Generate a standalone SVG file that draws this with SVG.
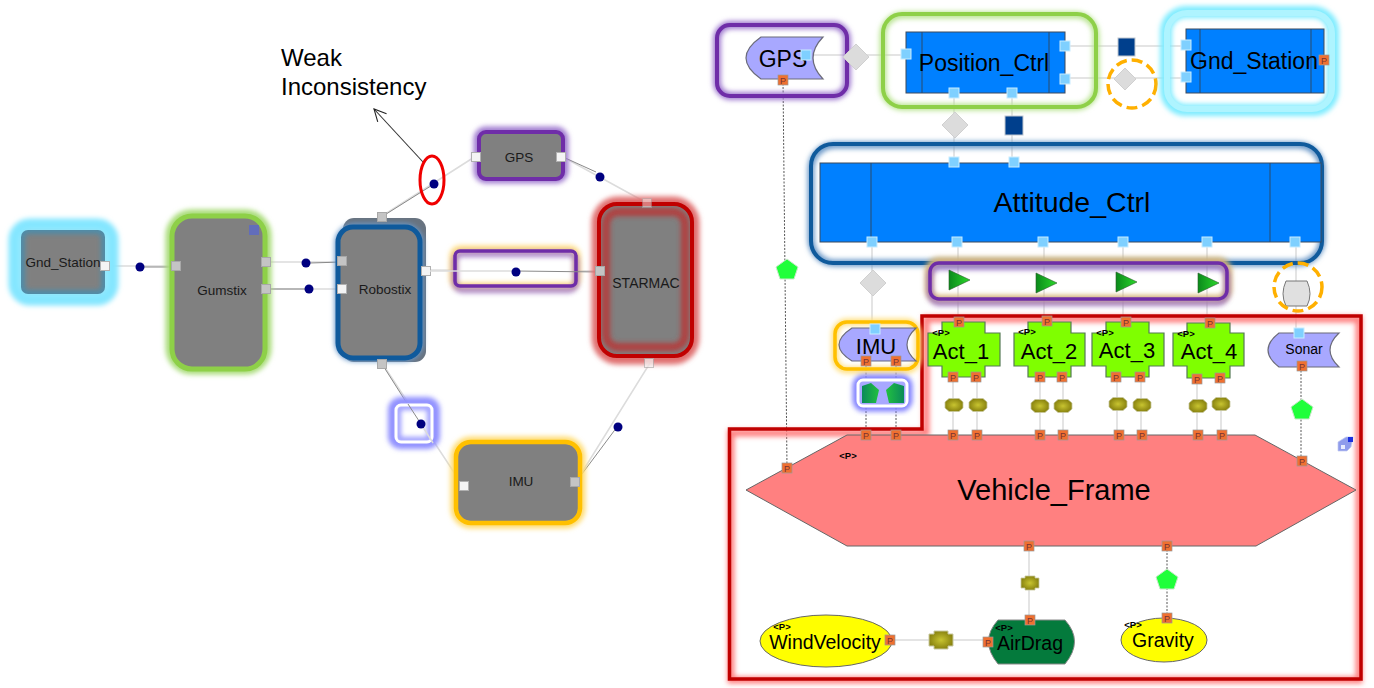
<svg xmlns="http://www.w3.org/2000/svg" width="1374" height="688" viewBox="0 0 1374 688">
<style>
text{font-family:"Liberation Sans",Arial,sans-serif;fill:#000;text-anchor:middle}
.l{font-size:13.500px;fill:#1a1a1a}
.big{font-size:22px}
.wide{font-size:23px}
.p{font-size:9.500px;font-weight:bold}
.gray{fill:#808080}
.wire{fill:none;stroke:#dcdcdc;stroke-width:1.500}
.dark{fill:none;stroke:#8a8a8a;stroke-width:1}
.dash{fill:none;stroke:#555;stroke-width:1;stroke-dasharray:2 1.500}
.blue{fill:#0080ff;stroke:#3d4a5c;stroke-width:1}
.div{stroke:#2a4a6a;stroke-width:1}
.halo{fill:none;filter:url(#b)}
.ring{fill:none}
.sig{fill:#a8a8ff;stroke:#6b6b7a;stroke-width:1.200}
.act{fill:#7fff00;stroke:#557a55;stroke-width:1.200}
.dia{fill:#dcdcdc;stroke:#d0d0d0}
.pent{fill:#1fff3a;stroke:#c8e8c8}
.nav{fill:#003f8c;stroke:#c0c8d0}
</style>
<defs>
<filter id="b" x="-30%" y="-30%" width="160%" height="160%"><feGaussianBlur stdDeviation="2.500"/></filter>
<linearGradient id="tri"><stop offset="0" stop-color="#0b8a1c"/><stop offset="1" stop-color="#2bd82b"/></linearGradient>
<radialGradient id="ol"><stop offset="0" stop-color="#c8c430"/><stop offset="1" stop-color="#8a8410"/></radialGradient>
<linearGradient id="gl" x1="0" x2="1"><stop offset="0" stop-color="#0a8a5a"/><stop offset="1" stop-color="#22c040"/></linearGradient>
<linearGradient id="gr" x1="0" x2="1"><stop offset="0" stop-color="#22c040"/><stop offset="1" stop-color="#0a8a5a"/></linearGradient>
<marker id="open" markerWidth="16" markerHeight="16" refX="13" refY="7" orient="auto" markerUnits="userSpaceOnUse"><path d="M1 1L13 7L1 13" fill="none" stroke="#222" stroke-width="1.100"/></marker>
<rect id="sq" x="-5" y="-5" width="10" height="10" fill="#7fd0ff" stroke="#c8ecff"/>
<rect id="ws" x="-4.500" y="-4.500" width="9" height="9" fill="#f4f4f4" stroke="#b0b0b0"/>
<rect id="gs" x="-4.500" y="-4.500" width="9" height="9" fill="#c4c4c4" stroke="#a8a8a8"/>
<circle id="dot" r="4.500" fill="#000080"/>
<g id="port"><rect x="-5" y="-5" width="10" height="10" fill="#f07030" stroke="#999" stroke-width=".7"/><text y="3.500" style="font-size:9px;fill:#733">P</text></g>
<path id="diamond" d="M0-13L13 0L0 13L-13 0Z"/>
<path id="tr" d="M-10-10L11 0L-10 10Z" fill="url(#tri)" stroke="#2a5a2a" stroke-width=".6"/>
<path id="olive" d="M-5-6.500H5L9-3V3L5 6.500H-5L-9 3V-3Z" fill="url(#ol)" stroke="#c8c8a0" stroke-width=".8"/>
<path id="oliveB" d="M-5-7H5V-5H9V5H5V7H-5V5H-9V-5H-5Z" fill="url(#ol)" stroke="#c8c8a0" stroke-width=".8"/>
<path id="pentagon" d="M0-10L11-2L7 10H-7L-11-2Z"/>
</defs>

<g id="connectors">
<path class="wire" d="M110 266H175M268 262H342M268 289H342"/>
<path class="dark" d="M140 267H174M269 289H309M310 263L342 262"/>
<path class="wire" d="M382 216L476 156M563 157L647 203M426 270L600 271M382 363L463 486M650 363L576 482"/>
<path class="dark" d="M383 216L434 184M563 157L596 172M382 364L420 424M576 482L617 427"/>
<path d="M423 162L374 109" fill="none" stroke="#333" stroke-width="1.100" marker-end="url(#open)"/>
<path class="wire" d="M807 55H906M1065 46H1186M1065 78H1186M954 93V162M1012 93V162M872 242V332M958 242V322M1044 242V322M1123 242V322M1207 242V322M1296 242V332"/>
<path class="wire" d="M953 377V435M977 377V435M1040 377V435M1063 377V435M1117 377V435M1141 377V435M1197 377V435M1221 377V435M1029 546V620M890 640H986"/>
<path class="dash" d="M783 80L787 468M866 362V435M896 362V435M1301 367V461M1167 546V619"/>
</g>

<g id="left_Gnd_Station">
<rect x="14" y="224" width="99" height="76" rx="16" fill="#9cecff" stroke="#84e6ff" stroke-width="11" filter="url(#b)"/>
<rect x="21" y="230" width="84" height="64" rx="7" fill="#4f8ca8"/>
<rect x="25" y="234" width="76" height="56" rx="4" fill="#808080" filter="url(#b)"/>
<text class="l" x="63" y="267">Gnd_Station</text>
<use href="#ws" x="105" y="266"/>
<use href="#dot" x="140" y="267"/>
</g>
<g id="left_Gumstix">
<rect class="halo" x="170" y="214" width="97" height="156" rx="22" stroke="#a8dc78" stroke-width="9"/>
<rect class="gray" x="174" y="217" width="90" height="150" rx="16"/>
<rect class="ring" x="172" y="216" width="93" height="153" rx="20" stroke="#8ed048" stroke-width="5"/>
<text class="l" x="222" y="295">Gumstix</text>
<rect x="249" y="225" width="10" height="10" fill="#5a68c8" opacity=".8"/>
<use href="#gs" x="176" y="266"/>
<use href="#gs" x="266" y="262"/><use href="#gs" x="266" y="289"/>
<use href="#dot" x="306" y="263"/><use href="#dot" x="309" y="289"/>
</g>
<g id="left_Robostix">
<rect x="343" y="218" width="83" height="144" rx="11" fill="#687380"/>
<rect class="halo" x="338" y="227" width="82" height="131" rx="16" stroke="#6a9acc" stroke-width="7"/>
<rect class="gray" x="340" y="228" width="79" height="129" rx="14"/>
<rect class="ring" x="338" y="227" width="82" height="131" rx="15" stroke="#0f5a9c" stroke-width="5"/>
<text class="l" x="385" y="294">Robostix</text>
<use href="#gs" x="382" y="217"/><use href="#gs" x="382" y="364"/>
<use href="#gs" x="342" y="261"/><use href="#ws" x="342" y="289"/><use href="#ws" x="426" y="271"/>
</g>
<g id="left_GPS">
<rect class="halo" x="478" y="131" width="86" height="48" rx="8" stroke="#a07cd0" stroke-width="9"/>
<rect class="gray" x="479" y="132" width="84" height="47" rx="6"/>
<rect class="ring" x="479" y="132" width="84" height="47" rx="7" stroke="#6f2da8" stroke-width="4"/>
<text class="l" x="519" y="162">GPS</text>
<use href="#ws" x="476" y="157"/><use href="#ws" x="561" y="157"/>
</g>
<g id="left_link">
<rect x="455" y="251" width="121" height="35" rx="5" fill="#fff"/>
<rect class="halo" x="453" y="249" width="124" height="37" rx="7" stroke="#ffdc80" stroke-width="7"/>
<rect class="halo" x="455" y="254" width="121" height="36" rx="7" stroke="#9060c0" stroke-width="6" opacity=".75"/>
<rect class="ring" x="455" y="251" width="121" height="35" rx="5" stroke="#6f2da8" stroke-width="3.500"/>
<path class="dark" d="M516 271L600 272"/><path class="wire" d="M430 271H516"/>
<use href="#dot" x="516" y="272"/>
</g>
<g id="left_STARMAC">
<rect class="halo" x="598" y="203" width="95" height="155" rx="20" stroke="#e07070" stroke-width="13"/>
<rect class="gray" x="600" y="205" width="91" height="151" rx="15"/>
<rect class="halo" x="606" y="212" width="79" height="135" rx="12" stroke="#b04040" stroke-width="8"/>
<rect class="ring" x="599" y="204" width="93" height="152" rx="18" stroke="#c00000" stroke-width="4"/>
<text class="l" x="646" y="288" style="font-size:14px">STARMAC</text>
<use href="#ws" x="647" y="203" opacity=".5"/><use href="#ws" x="649" y="363" opacity=".7"/><use href="#gs" x="600" y="271"/>
</g>
<g id="left_IMU">
<rect class="halo" x="455" y="441" width="126" height="83" rx="16" stroke="#ffdc70" stroke-width="9"/>
<rect class="gray" x="458" y="444" width="120" height="77" rx="12"/>
<rect class="ring" x="456" y="442" width="124" height="81" rx="15" stroke="#ffc000" stroke-width="4.500"/>
<text class="l" x="521" y="486">IMU</text>
<use href="#ws" x="464" y="486"/><use href="#gs" x="575" y="482"/>
<use href="#dot" x="618" y="427"/>
</g>
<g id="left_small">
<rect class="halo" x="393" y="402" width="42" height="42" rx="8" stroke="#9090ff" stroke-width="10"/>
<rect x="396" y="405" width="36" height="37" rx="5" fill="#fff"/>
<rect class="halo" x="398" y="407" width="32" height="33" rx="4" stroke="#9a9aff" stroke-width="6"/>
<rect class="ring" x="396" y="405" width="36" height="37" rx="5" stroke="#fff" stroke-width="3"/>
<path class="dark" d="M408 404L421 424"/><path class="wire" d="M421 424L433 443"/>
<use href="#dot" x="421" y="424"/>
</g>
<g id="weak">
<ellipse class="ring" cx="432" cy="180" rx="12" ry="24" stroke="#f00000" stroke-width="3"/>
<use href="#dot" x="434" y="184"/><use href="#dot" x="600" y="177"/>
<text x="281" y="66" style="font-size:24px;text-anchor:start">Weak</text>
<text x="281" y="95" style="font-size:24px;text-anchor:start">Inconsistency</text>
</g>

<g id="GPS">
<rect class="halo" x="717" y="25" width="130" height="71" rx="14" stroke="#a07cd0" stroke-width="8"/>
<rect class="ring" x="717" y="25" width="130" height="71" rx="13" stroke="#6f2da8" stroke-width="4"/>
<path class="sig" d="M761 37H823Q803 58 823 79H761Q731 58 761 37Z"/>
<text class="wide" x="783" y="67">GPS</text>
<use href="#sq" x="806" y="55"/><use href="#port" x="783" y="80"/>
</g>
<use class="dia" href="#diamond" x="856" y="57"/>
<g id="Position_Ctrl">
<rect class="halo" x="883" y="15" width="213" height="92" rx="20" stroke="#b8e490" stroke-width="7"/>
<rect class="ring" x="883" y="14" width="213" height="93" rx="19" stroke="#8ed048" stroke-width="4"/>
<rect class="blue" x="906" y="32" width="159" height="61"/>
<path class="div" d="M922 32V93M1049 32V93"/>
<text class="wide" x="984" y="71">Position_Ctrl</text>
<use href="#sq" x="906" y="54"/><use href="#sq" x="1065" y="46"/><use href="#sq" x="1065" y="79"/><use href="#sq" x="954" y="93"/><use href="#sq" x="1012" y="93"/>
</g>
<rect class="nav" x="1118" y="38" width="17" height="18"/>
<path class="dia" d="M1125 68L1136 79L1125 90L1114 79Z"/>
<circle class="ring" cx="1132" cy="84" r="24" stroke="#ffb000" stroke-width="3.500" stroke-dasharray="11 5"/>
<g id="Gnd_Station">
<rect class="halo" x="1166" y="12" width="167" height="98" rx="20" stroke="#7fecff" stroke-width="12"/>
<rect class="ring" x="1167" y="13" width="165" height="96" rx="20" stroke="#aef4ff" stroke-width="6"/>
<rect class="blue" x="1186" y="29" width="138" height="64"/>
<path class="div" d="M1200 29V93M1311 29V93"/>
<text class="wide" x="1254" y="69">Gnd_Station</text>
<use href="#sq" x="1186" y="45"/><use href="#sq" x="1186" y="77"/><use href="#port" x="1324" y="60"/>
</g>
<use class="dia" href="#diamond" x="955" y="125"/>
<rect class="nav" x="1005" y="116" width="18" height="19"/>
<g id="Attitude_Ctrl">
<rect class="halo" x="811" y="145" width="511" height="118" rx="24" stroke="#6a98c8" stroke-width="7"/>
<rect class="ring" x="811" y="144" width="511" height="119" rx="22" stroke="#0f5a9c" stroke-width="4"/>
<rect class="blue" x="820" y="163" width="501" height="79"/>
<path class="div" d="M871 163V242M1270 163V242"/>
<text x="1072" y="212" style="font-size:28.500px">Attitude_Ctrl</text>
<use href="#sq" x="954" y="162"/><use href="#sq" x="1014" y="162"/><use href="#sq" x="872" y="242"/><use href="#sq" x="957" y="242"/><use href="#sq" x="1043" y="242"/><use href="#sq" x="1123" y="242"/><use href="#sq" x="1207" y="242"/><use href="#sq" x="1295" y="242"/>
</g>
<g id="Actuation">
<rect class="halo" x="929" y="261" width="299" height="38" rx="10" stroke="#d8b878" stroke-width="8"/>
<rect class="halo" x="930" y="267" width="297" height="36" rx="10" stroke="#9060c0" stroke-width="6" opacity=".75"/>
<rect class="ring" x="930" y="263" width="297" height="36" rx="9" stroke="#6f2da8" stroke-width="3.500"/>
<use href="#tr" x="959" y="280"/><use href="#tr" x="1046" y="283"/><use href="#tr" x="1126" y="282"/><use href="#tr" x="1208" y="283"/>
</g>
<use class="pent" href="#pentagon" x="787" y="269"/>
<use class="dia" href="#diamond" x="873" y="283"/>
<g id="Sonar_conv">
<path d="M1286 281H1307Q1313 294 1307 306H1286Q1280 294 1286 281Z" fill="#e0e0e0" stroke="#777" stroke-width="1"/>
<circle class="ring" cx="1298" cy="287" r="24" stroke="#ffb000" stroke-width="3.500" stroke-dasharray="11 5"/>
</g>
<g id="Plant_boundary">
<path class="halo" d="M731 433H926V319H1359V680H731Z" stroke="#ff8080" stroke-width="7"/>
<path class="ring" d="M729.500 429H922V316H1361V679H729.500Z" stroke="#c00000" stroke-width="3.500"/>
</g>
<g id="IMU">
<rect class="halo" x="835" y="322" width="83" height="48" rx="12" stroke="#ffe080" stroke-width="7"/>
<rect class="ring" x="835" y="322" width="83" height="47" rx="12" stroke="#ffc000" stroke-width="3.500"/>
<path class="sig" d="M852 328H916Q898 345 916 361H852Q826 345 852 328Z"/>
<text class="big" x="876" y="354">IMU</text>
<use href="#sq" x="875" y="329"/><use href="#port" x="866" y="361"/><use href="#port" x="896" y="361"/>
</g>
<g id="IMU_conv">
<rect class="halo" x="857" y="379" width="51" height="28" rx="7" stroke="#8080ff" stroke-width="9"/>
<rect x="858" y="380" width="49" height="26" rx="5" fill="#a8a8ff" stroke="#fff" stroke-width="3"/>
<path d="M862 386L871 383L879 390L876 403H862Z" fill="url(#gl)"/>
<path d="M886 390L894 383L904 386V403H889Z" fill="url(#gr)"/>
</g>
<g id="Vehicle_Frame">
<path d="M746 490L847 435H1255L1356 490L1256 546H847Z" fill="#ff8080" stroke="#666" stroke-width="1"/>
<text x="1054" y="500" style="font-size:29px">Vehicle_Frame</text>
<text class="p" x="848" y="459">&lt;P&gt;</text>
<use href="#port" x="787" y="468"/><use href="#port" x="866" y="435"/><use href="#port" x="896" y="435"/>
<use href="#port" x="953" y="435"/><use href="#port" x="977" y="435"/><use href="#port" x="1040" y="435"/><use href="#port" x="1063" y="435"/><use href="#port" x="1119" y="435"/><use href="#port" x="1142" y="435"/><use href="#port" x="1198" y="435"/><use href="#port" x="1222" y="435"/><use href="#port" x="1302" y="461"/><use href="#port" x="1029" y="546"/><use href="#port" x="1167" y="546"/>
</g>
<g id="Act_1">
<path class="act" d="M942 322H985V333H1000V366H985V377H942V366H928V333H942Z"/>
<text class="p" x="941" y="336">&lt;P&gt;</text>
<text class="big" x="961" y="359">Act_1</text>
<use href="#port" x="959" y="322"/><use href="#port" x="953" y="377"/><use href="#port" x="976" y="377"/>
</g>
<g id="Act_2">
<path class="act" d="M1028 322H1071V333H1085V366H1071V377H1028V366H1014V333H1028Z"/>
<text class="p" x="1027" y="335">&lt;P&gt;</text>
<text class="big" x="1049" y="359">Act_2</text>
<use href="#port" x="1047" y="321"/><use href="#port" x="1040" y="377"/><use href="#port" x="1062" y="377"/>
</g>
<g id="Act_3">
<path class="act" d="M1106 322H1149V333H1164V366H1149V377H1106V366H1092V333H1106Z"/>
<text class="p" x="1105" y="336">&lt;P&gt;</text>
<text class="big" x="1127" y="358">Act_3</text>
<use href="#port" x="1126" y="322"/><use href="#port" x="1116" y="377"/><use href="#port" x="1140" y="377"/>
</g>
<g id="Act_4">
<path class="act" d="M1187 323H1230V333H1244V366H1230V378H1187V366H1173V333H1187Z"/>
<text class="p" x="1186" y="337">&lt;P&gt;</text>
<text class="big" x="1209" y="359">Act_4</text>
<use href="#port" x="1210" y="323"/><use href="#port" x="1197" y="379"/><use href="#port" x="1220" y="378"/>
</g>
<g id="Sonar">
<path class="sig" d="M1279 333H1339Q1321 350 1339 367H1279Q1257 350 1279 333Z"/>
<text x="1304" y="354" style="font-size:14px">Sonar</text>
<use href="#sq" x="1299" y="333"/><use href="#port" x="1302" y="366"/>
</g>
<use class="pent" href="#pentagon" x="1302" y="409"/>
<g id="c_block" transform="translate(1345 444)"><path d="M-7-2L1-7H8L6 3L2 7H-7Z" fill="#8f9cec" stroke="#c0c8f0" stroke-width=".7"/><rect x="3" y="-7" width="5" height="5" fill="#1a30e0"/><rect x="-4" y="1" width="4" height="4" fill="#e8ecff"/></g>
<g id="junctions">
<use href="#olive" x="954" y="405"/><use href="#olive" x="978" y="405"/><use href="#olive" x="1040" y="406"/><use href="#olive" x="1063" y="406"/><use href="#olive" x="1118" y="404"/><use href="#olive" x="1142" y="405"/><use href="#olive" x="1198" y="406"/><use href="#olive" x="1221" y="404"/>
<use href="#oliveB" x="1030" y="583"/><path d="M-7-9H7V-6H12V6H7V9H-7V6H-12V-6H-7Z" transform="translate(941 640)" fill="url(#ol)" stroke="#c8c8a0"/>
</g>
<use class="pent" href="#pentagon" x="1167" y="579"/>
<g id="WindVelocity">
<ellipse cx="826" cy="641" rx="66" ry="26" fill="#ff0" stroke="#666"/>
<text class="p" x="782" y="630">&lt;P&gt;</text>
<text x="825" y="649" style="font-size:19.500px">WindVelocity</text>
<use href="#port" x="890" y="640"/>
</g>
<g id="AirDrag">
<path d="M998 620H1065Q1084 641 1065 664H998Q979 641 998 620Z" fill="#047a3c" stroke="#888"/>
<text class="p" x="1004" y="631">&lt;P&gt;</text>
<text x="1030" y="650" style="font-size:19.500px">AirDrag</text>
<use href="#port" x="1030" y="620"/><use href="#port" x="988" y="642"/>
</g>
<g id="Gravity">
<ellipse cx="1164" cy="640" rx="43" ry="22" fill="#ff0" stroke="#666"/>
<text class="p" x="1133" y="628">&lt;P&gt;</text>
<text x="1163" y="647" style="font-size:19.500px">Gravity</text>
<use href="#port" x="1167" y="618"/>
</g>
</svg>
